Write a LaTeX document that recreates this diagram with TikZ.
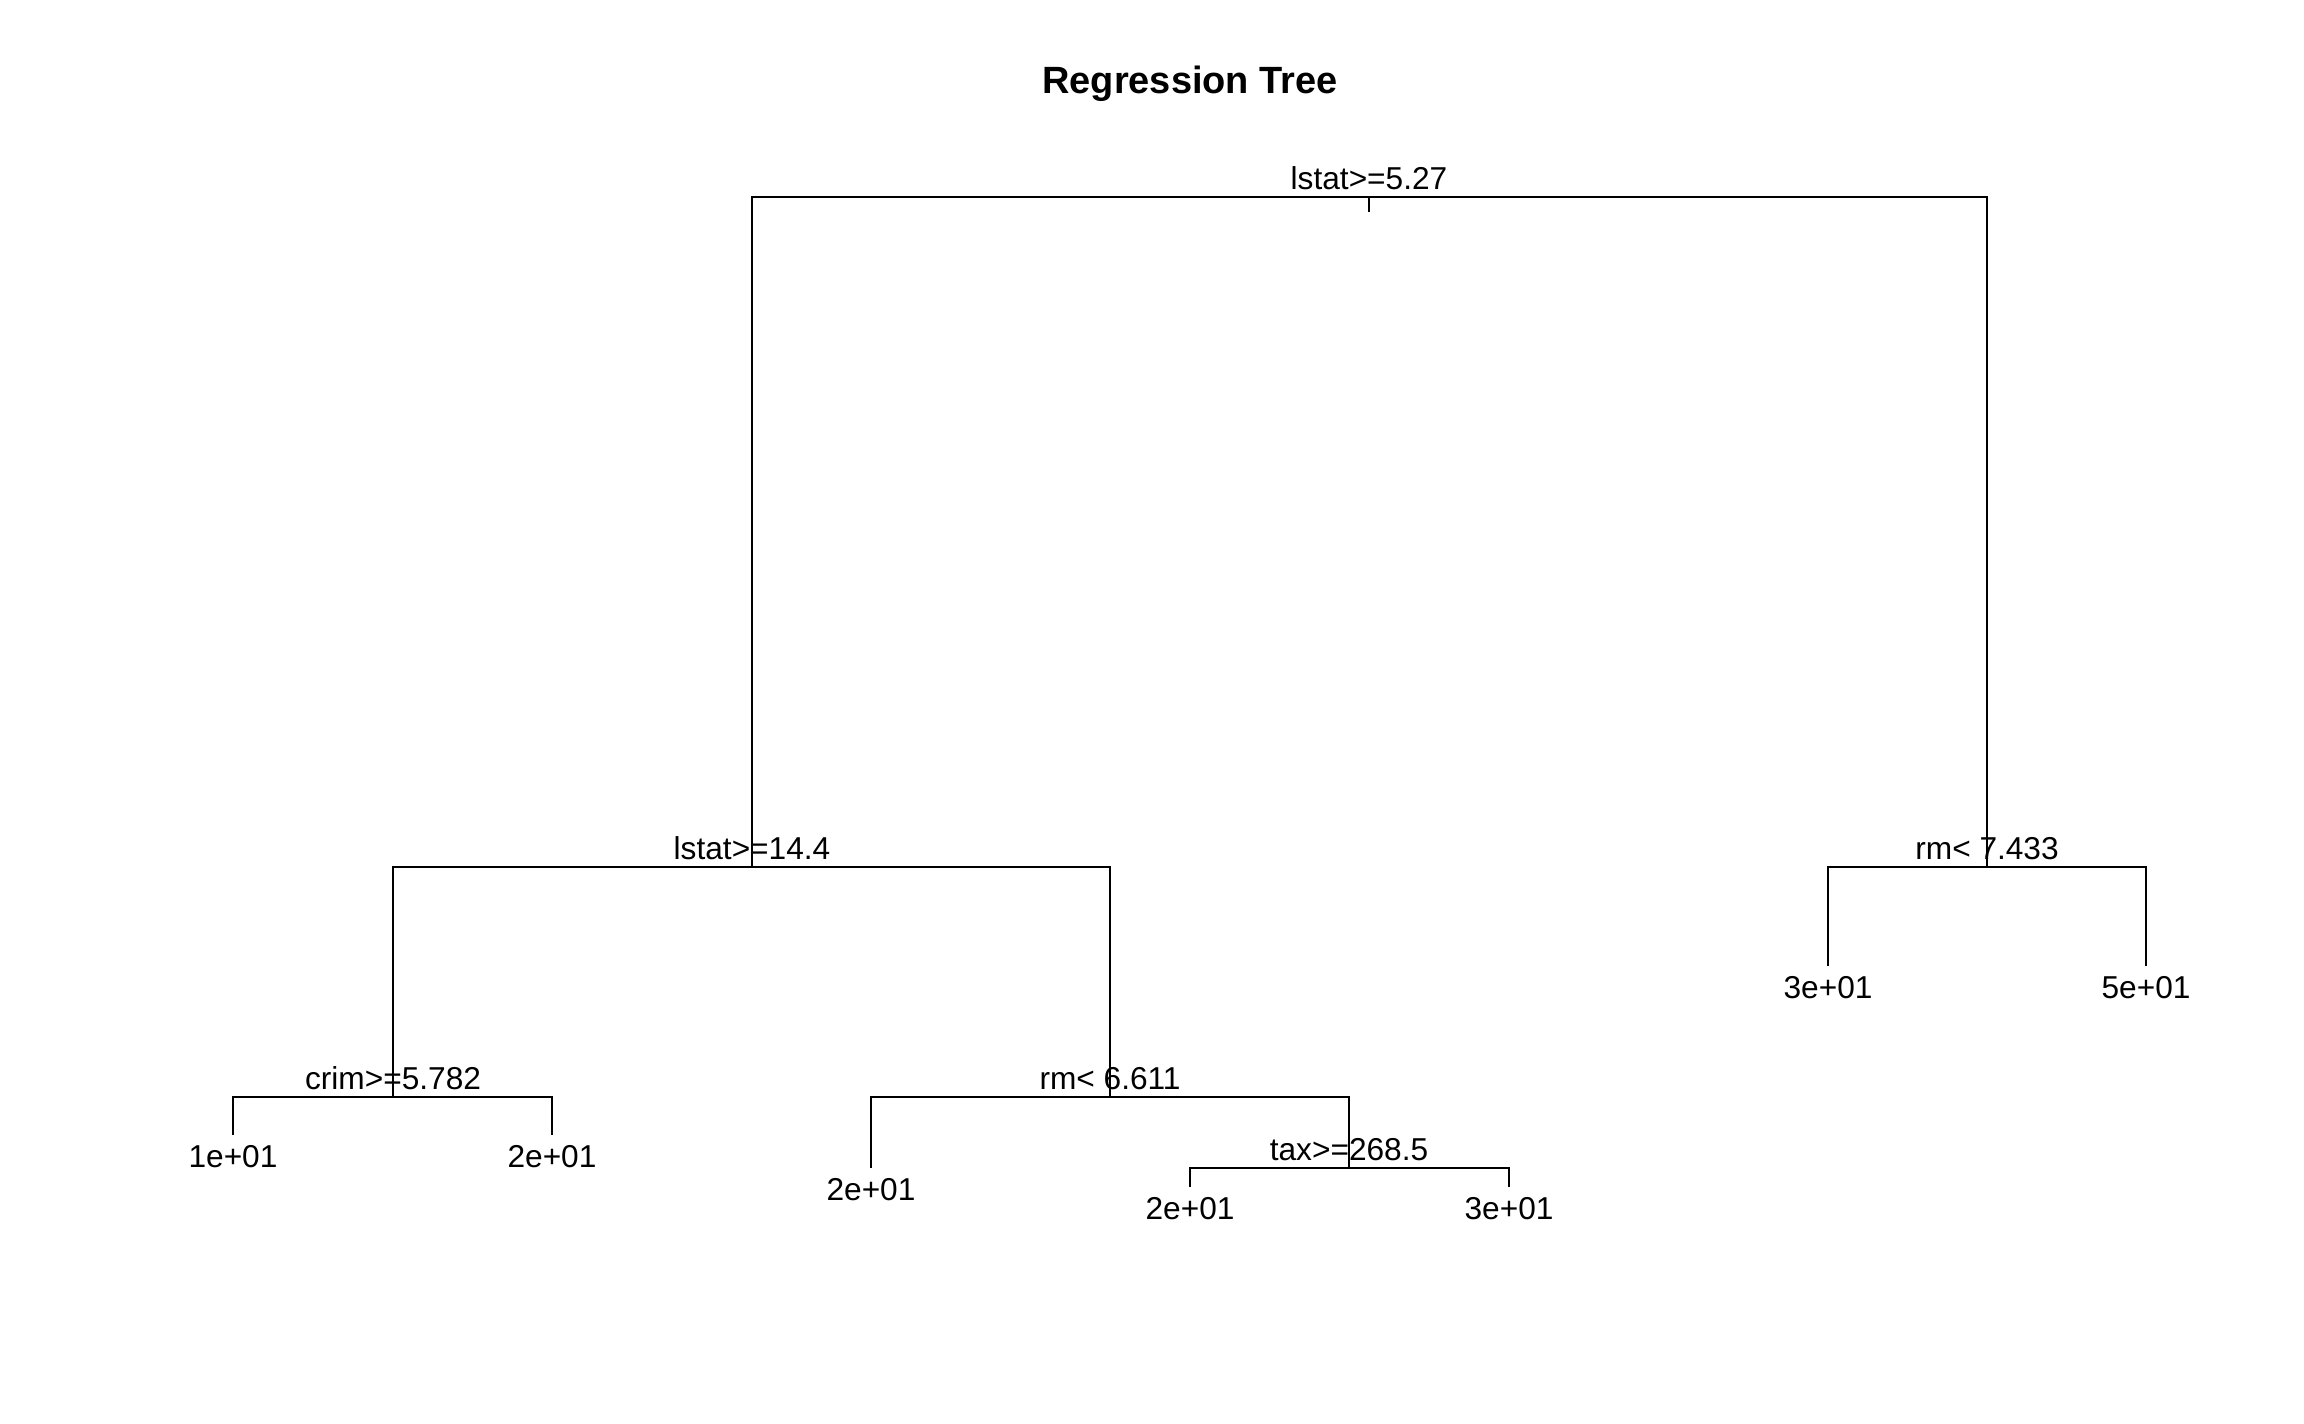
\documentclass[tikz,border=0pt]{standalone}
\usepackage{fontspec}
\setmainfont{Liberation Sans}
\usetikzlibrary{positioning}

\begin{document}
\begin{tikzpicture}[x=0.01cm, y=-0.01cm,
		splitlabel/.style={inner sep=0pt, font=\fontsize{9}{10}\selectfont},
		leafval/.style={inner sep=0pt, font=\fontsize{9}{10}\selectfont},
		branch/.style={line width=0.6pt}]
		\useasboundingbox (0,0) rectangle (2304,1423);
		\node (title) [anchor=base, inner sep=0pt, font=\fontsize{10.8}{12}\selectfont\bfseries] at (1190,93) {Regression Tree};

		\coordinate (root) at (1369,197);
		\coordinate (rootstem) at (1369,212);
		\coordinate (lstat) at (752,867);
		\coordinate (rmhigh) at (1987,867);
		\coordinate (crim) at (393,1097);
		\coordinate (rmlow) at (1110,1097);
		\coordinate (tax) at (1349,1168);
		\coordinate (crimleft) at (233,1135);
		\coordinate (crimright) at (552,1135);
		\coordinate (rmlowleft) at (871,1168);
		\coordinate (taxleft) at (1190,1187);
		\coordinate (taxright) at (1509,1187);
		\coordinate (rmhighleft) at (1828,966);
		\coordinate (rmhighright) at (2146,966);

		\node (rootlabel) [splitlabel, above=0.065cm of root] {lstat>=5.27};
		\node (lstatlabel) [splitlabel, above=0.065cm of lstat] {lstat>=14.4};
		\node (rmhighlabel) [splitlabel, above=0.065cm of rmhigh] {rm< 7.433};
		\node (crimlabel) [splitlabel, above=0.065cm of crim] {crim>=5.782};
		\node (rmlowlabel) [splitlabel, above=0.065cm of rmlow] {rm< 6.611};
		\node (taxlabel) [splitlabel, above=0.065cm of tax] {tax>=268.5};

		\node (crimleftval) [leafval, below=0.1cm of crimleft] {1e+01};
		\node (crimrightval) [leafval, below=0.1cm of crimright] {2e+01};
		\node (rmlowleftval) [leafval, below=0.1cm of rmlowleft] {2e+01};
		\node (taxleftval) [leafval, below=0.1cm of taxleft] {2e+01};
		\node (taxrightval) [leafval, below=0.1cm of taxright] {3e+01};
		\node (rmhighleftval) [leafval, below=0.1cm of rmhighleft] {3e+01};
		\node (rmhighrightval) [leafval, below=0.1cm of rmhighright] {5e+01};

		\draw[branch] (lstat) |- (root) -| (rmhigh);
		\draw[branch] (root) -- (rootstem);
		\draw[branch] (crim) |- (lstat) -| (rmlow);
		\draw[branch] (crimleft) |- (crim) -| (crimright);
		\draw[branch] (rmlowleft) |- (rmlow) -| (tax);
		\draw[branch] (taxleft) |- (tax) -| (taxright);
		\draw[branch] (rmhighleft) |- (rmhigh) -| (rmhighright);
	\end{tikzpicture}
\end{document}
